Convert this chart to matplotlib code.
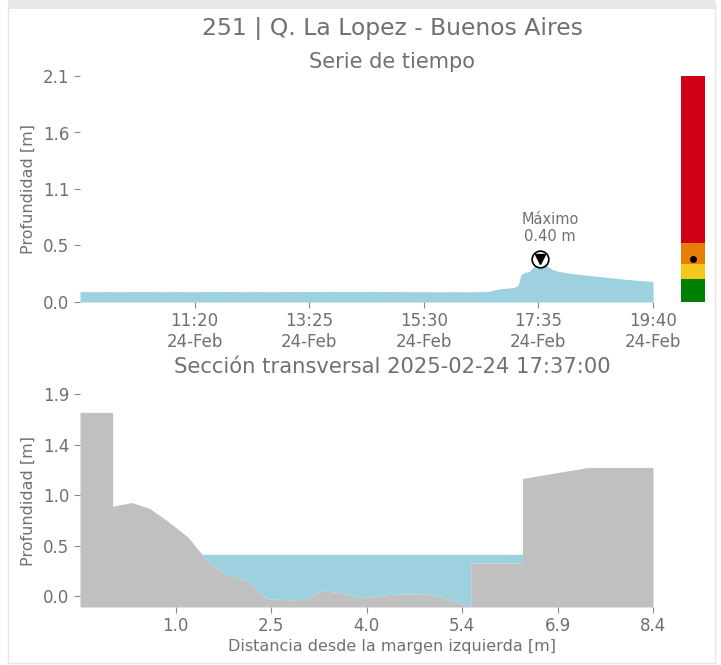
import matplotlib
matplotlib.use("Agg")
import matplotlib.pyplot as plt
import numpy as np
import pandas as pd
from matplotlib.patches import Rectangle

# ---------------------------
# 1. DATA
# ---------------------------

# Time series of water depth (24-Feb-2025)
times = ['09:15', '09:30', '09:45', '10:00', '10:15', '10:30', '10:45', '11:00',
         '11:15', '11:30', '11:45', '12:00', '12:15', '12:30', '12:45', '13:00',
         '13:15', '13:30', '13:45', '14:00', '14:15', '14:30', '14:45', '15:00',
         '15:15', '15:30', '15:45', '16:00', '16:15', '16:30', '16:40', '16:45',
         '16:50', '16:55', '17:00', '17:05', '17:10', '17:13', '17:16', '17:20',
         '17:25', '17:29', '17:33', '17:37', '17:41', '17:45', '17:50', '17:55',
         '18:00', '18:10', '18:20', '18:30', '18:40', '18:50', '19:00', '19:10',
         '19:20', '19:30', '19:40']
depth = [0.097, 0.096, 0.097, 0.096, 0.097, 0.097, 0.096, 0.097,
         0.096, 0.097, 0.098, 0.097, 0.096, 0.097, 0.096, 0.097,
         0.098, 0.097, 0.099, 0.098, 0.097, 0.099, 0.098, 0.097,
         0.096, 0.096, 0.095, 0.096, 0.095, 0.096, 0.097, 0.108,
         0.118, 0.124, 0.128, 0.133, 0.140, 0.160, 0.255, 0.275,
         0.285, 0.320, 0.350, 0.400, 0.355, 0.330, 0.305, 0.290,
         0.280, 0.266, 0.256, 0.247, 0.238, 0.229, 0.220, 0.211,
         0.204, 0.197, 0.190]

# Alert thresholds (colour bar)
alert_levels = [0.0, 0.21, 0.35, 0.55, 2.1]
alert_colors = ['#008000', '#f5c81c', '#e87d08', '#d00015']

# Cross section at the time of the maximum
dist = [-0.47, 0.035, 0.035, 0.33, 0.61, 0.87, 1.20, 1.41, 1.51, 1.80, 2.11,
        2.42, 2.73, 3.01, 3.29, 3.55, 3.91, 4.32, 4.79, 5.09, 5.58, 5.58,
        6.38, 6.38, 7.39, 8.40]
bed = [1.746, 1.746, 0.856, 0.891, 0.834, 0.722, 0.564, 0.406, 0.326, 0.206, 0.152,
       -0.022, -0.031, -0.029, 0.057, 0.035, -0.012, 0.019, 0.026, 0.0, -0.10, 0.317,
       0.317, 1.119, 1.223, 1.223]
water_level = 0.40
section_time = '2025-02-24 17:37:00'

# ---------------------------
# 2. FIGURE
# ---------------------------
txt = '#707070'
blue = '#9dd1e0'
grey = '#c0c0c0'

fig = plt.figure(figsize=(7.21, 6.65), dpi=100)
W, H = 721, 665

# light frame around the card
fig.add_artist(Rectangle((8 / W, 2 / H), 707 / W, 661 / H, transform=fig.transFigure,
                         fill=False, edgecolor='#e6e6e6', lw=1))
fig.add_artist(Rectangle((8 / W, 1 - 9 / H), 707 / W, 9 / H, transform=fig.transFigure,
                         facecolor='#e8e8e8', edgecolor='none'))

ax1 = fig.add_axes([80 / W, 1 - 302 / H, 573 / W, 226 / H])
axc = fig.add_axes([681 / W, 1 - 302 / H, 24 / W, 226 / H])
ax2 = fig.add_axes([80 / W, 1 - 607 / H, 573 / W, 213 / H])

cx = 392 / W
fig.text(cx, 1 - 28 / H, '251 | Q. La Lopez - Buenos Aires', ha='center', va='center',
         fontsize=16.9, color=txt)
fig.text(cx, 1 - 62 / H, 'Serie de tiempo', ha='center', va='center', fontsize=15, color=txt)
fig.text(cx, 1 - 367 / H, 'Sección transversal ' + section_time, ha='center', va='center',
         fontsize=15.2, color=txt)
fig.text(cx, 1 - 646 / H, 'Distancia desde la margen izquierda [m]', ha='center', va='center',
         fontsize=11.5, color=txt)

# ---------------------------
# 3. TIME SERIES
# ---------------------------
t = pd.to_datetime(['2025-02-24 ' + s for s in times])
ax1.fill_between(t, 0, depth, color=blue, lw=0)
ax1.set_xlim(t[0], t[-1])
ax1.set_ylim(0, 2.1)
xt = pd.date_range(t[0], t[-1], periods=6)[1:]
ax1.set_xticks(xt)
ax1.set_xticklabels([d.strftime('%H:%M\n%d-%b') for d in xt])
yt = np.linspace(0, 2.1, 5)
ax1.set_yticks(yt)
ax1.set_yticklabels(['%.1f' % v for v in yt])
ax1.set_ylabel('Profundidad [m]', fontsize=11.5, color=txt)

imax = int(np.argmax(depth))
ax1.plot(t[imax], depth[imax], 'o', ms=12, mfc='white', mec='black', mew=1.2, zorder=5)
ax1.plot(t[imax], depth[imax], 'v', ms=6.5, color='black', zorder=6)
ax1.annotate('Máximo\n%.2f m' % depth[imax], (t[imax], depth[imax]),
             xytext=(10, 31), textcoords='offset pixels', ha='center', va='center',
             fontsize=10.5, color=txt)

# alert colour bar
axc.bar(0, np.diff(alert_levels), bottom=alert_levels[:-1], width=1, color=alert_colors)
axc.plot(0, depth[imax], 'o', color='black', ms=4)
axc.set_xlim(-0.5, 0.5)
axc.set_ylim(0, 2.1)
axc.axis('off')

# ---------------------------
# 4. CROSS SECTION
# ---------------------------
dist = np.array(dist)
bed = np.array(bed)
ymin = bed.min()
ax2.fill_between(dist, bed, water_level, where=bed < water_level, interpolate=True,
                 color=blue, lw=0)
ax2.fill_between(dist, ymin, bed, color=grey, lw=0)
ax2.set_xlim(-0.47, 8.4)
ax2.set_ylim(ymin, 1.92)
xt2 = np.linspace(-0.47, 8.4, 7)[1:]
ax2.set_xticks(xt2)
ax2.set_xticklabels(['%.1f' % v for v in xt2])
yt2 = np.linspace(0, 1.92, 5)
ax2.set_yticks(yt2)
ax2.set_yticklabels(['%.1f' % v for v in yt2])
ax2.set_ylabel('Profundidad [m]', fontsize=11.5, color=txt)

for ax in (ax1, ax2):
    for s in ax.spines.values():
        s.set_visible(False)
    ax.tick_params(labelsize=12, labelcolor=txt, color='#888888', length=4, width=0.8)
    ax.yaxis.set_label_coords(-0.078, 0.5)

fig.savefig('out.png', dpi=100)
